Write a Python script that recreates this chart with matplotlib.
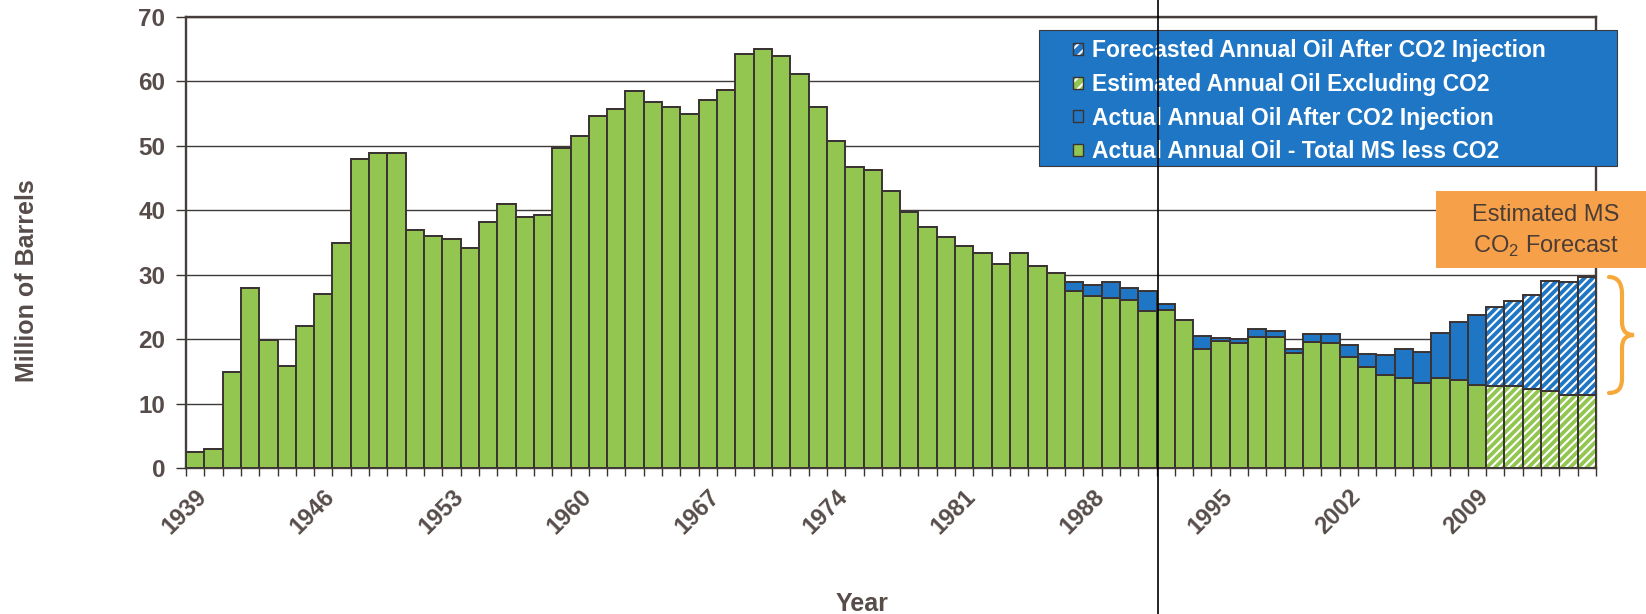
import matplotlib
matplotlib.use("Agg")
import matplotlib.pyplot as plt
import numpy as np
from matplotlib.patches import Rectangle, Patch, PathPatch
from matplotlib.path import Path
from matplotlib.lines import Line2D
from matplotlib.transforms import blended_transform_factory

# ---------------- data ----------------
years = list(range(1939, 2016))

actual_years = list(range(1939, 2010))
actual_base = [2.5, 3.0, 14.9, 28.0, 19.9, 15.9, 22.0, 27.0, 35.0, 47.9,
               48.9, 48.9, 37.0, 36.0, 35.6, 34.2, 38.2, 40.9, 38.9, 39.2,
               49.6, 51.5, 54.6, 55.7, 58.5, 56.8, 56.0, 55.0, 57.1, 58.6,
               64.2, 65.0, 64.0, 61.1, 56.1, 50.8, 46.7, 46.2, 43.0, 39.8,
               37.4, 35.8, 34.5, 33.3, 31.7, 33.3, 31.4, 30.3,
               27.5, 26.7, 26.4, 26.0, 24.3, 24.5, 22.9, 18.4, 19.7, 19.4,
               20.3, 20.3, 17.8, 19.6, 19.4, 17.2, 15.7, 14.4, 14.0, 13.2,
               13.9, 13.7, 12.9]
actual_co2 = [0.0] * 48 + [1.3, 1.7, 2.5, 1.9, 3.2, 1.0, 0.0, 2.1, 0.5, 0.6,
                           1.2, 1.0, 0.7, 1.2, 1.4, 1.9, 2.0, 3.1, 4.4, 4.8,
                           7.1, 8.9, 10.8]

forecast_years = list(range(2010, 2016))
estimated_base = [12.8, 12.8, 12.3, 12.0, 11.4, 11.4]
forecast_co2 = [12.2, 13.1, 14.5, 17.0, 17.5, 18.2]

label_years = list(range(1939, 2010, 7))
yticks = list(range(0, 80, 10))
divider_year = 1991.6

labels = ["Forecasted Annual Oil After CO2 Injection",
          "Estimated Annual Oil Excluding CO2",
          "Actual Annual Oil After CO2 Injection",
          "Actual Annual Oil - Total MS less CO2"]

# ---------------- style ----------------
GREEN = "#93c650"
BLUE = "#1f76c4"
EDGE = "#3b3331"
TXT = "#564c4a"
ORANGE = "#f7a04a"
BRACE = "#f6a93a"

plt.rcParams["font.family"] = ["Liberation Sans", "DejaVu Sans"]
plt.rcParams["mathtext.fontset"] = "custom"
plt.rcParams["mathtext.rm"] = "Liberation Sans"
plt.rcParams["hatch.linewidth"] = 1.5

W, H = 1646, 614
fig = plt.figure(figsize=(W / 100, H / 100), dpi=100)
ax = fig.add_axes([186 / W, 1 - 468 / H, (1596 - 186) / W, (468 - 17) / H])

x0 = years[0]
xa = np.array(actual_years) - x0
xf = np.array(forecast_years) - x0
base = np.array(actual_base)
co2 = np.array(actual_co2)
eb = np.array(estimated_base)
fc = np.array(forecast_co2)

lw = 1.4
ax.bar(xa, base, width=1.0, color=GREEN, edgecolor=EDGE, linewidth=lw, zorder=3)
ax.bar(xa, co2, bottom=base, width=1.0, color=BLUE, edgecolor=EDGE, linewidth=lw, zorder=3)
# hatched forecast bars (white stripes), then outline
ax.bar(xf, eb, width=1.0, color=GREEN, edgecolor="white", hatch="////", linewidth=0, zorder=3)
ax.bar(xf, fc, bottom=eb, width=1.0, color=BLUE, edgecolor="white", hatch="////", linewidth=0, zorder=3)
ax.bar(xf, eb, width=1.0, fill=False, edgecolor=EDGE, linewidth=lw, zorder=4)
ax.bar(xf, fc, bottom=eb, width=1.0, fill=False, edgecolor=EDGE, linewidth=lw, zorder=4)

ax.set_xlim(-0.5, len(years) - 0.5)
ax.set_ylim(0, 70)
ax.set_yticks(yticks)
ax.set_yticklabels([str(v) for v in yticks])
ax.yaxis.grid(True, color="#3f3a38", linewidth=1.0, zorder=0)
ax.set_axisbelow(True)

ax.set_xticks([y - x0 for y in label_years])
ax.set_xticklabels([str(y) for y in label_years], rotation=45, ha="right",
                   va="top", rotation_mode="anchor")
ax.set_xticks(np.arange(-0.5, len(years) + 0.5, 1.0), minor=True)
ax.tick_params(axis="x", which="major", length=0, pad=12)
ax.tick_params(axis="x", which="minor", length=6, width=1.0, color=EDGE, direction="out")
ax.tick_params(axis="y", length=7, width=1.0, color=EDGE, direction="out", pad=8)
for lab in ax.get_xticklabels():
    lab.set_fontsize(17)
    lab.set_fontweight("bold")
    lab.set_color(TXT)
for lab in ax.get_yticklabels():
    lab.set_fontsize(17.5)
    lab.set_fontweight("bold")
    lab.set_color(TXT)
for s in ax.spines.values():
    s.set_color("#463e3c")
    s.set_linewidth(1.7)

# axis titles
fig.text(27 / W, 1 - 281 / H, "Million of Barrels", rotation=90, ha="center", va="center",
         fontsize=18, fontweight="bold", color=TXT)
fig.text(862 / W, 1 - 604 / H, "Year", ha="center", va="center",
         fontsize=18, fontweight="bold", color=TXT)

# legend: blue box + frameless legend
fig.add_artist(Rectangle((1039 / W, 1 - 166 / H), (1617 - 1039) / W, (166 - 30) / H,
                         transform=fig.transFigure, facecolor=BLUE, edgecolor="#3a3a3a",
                         linewidth=0.8, zorder=2))
h_fore = (Patch(facecolor=BLUE, edgecolor="white", hatch="///", linewidth=0),
          Patch(fill=False, edgecolor=EDGE, linewidth=1.0))
h_est = (Patch(facecolor=GREEN, edgecolor="white", hatch="///", linewidth=0),
         Patch(fill=False, edgecolor=EDGE, linewidth=1.0))
h_act_co2 = Patch(facecolor=BLUE, edgecolor=EDGE, linewidth=1.0)
h_act = Patch(facecolor=GREEN, edgecolor=EDGE, linewidth=1.0)
leg = fig.legend([h_fore, h_est, h_act_co2, h_act], labels,
                 loc="upper left", bbox_to_anchor=(1073 / W, 1 - 39 / H),
                 bbox_transform=fig.transFigure, frameon=False,
                 prop={"family": ["Liberation Sans"], "weight": "bold", "size": 16.5},
                 labelcolor="white", handlelength=0.42, handleheight=0.42,
                 handletextpad=0.4, labelspacing=0.47, borderpad=0, borderaxespad=0)
leg.set_zorder(3)

# orange annotation box
fig.add_artist(Rectangle((1436 / W, 1 - 268 / H), (W - 1436) / W, (268 - 191) / H,
                         transform=fig.transFigure, facecolor=ORANGE, edgecolor="none",
                         zorder=2))
fig.text(1546 / W, 1 - 215 / H, "Estimated MS", ha="center", va="center",
         fontsize=17, color="#4b3d36", zorder=3)
fig.text(1546 / W, 1 - 246 / H, r"CO$_2$ Forecast", ha="center", va="center",
         fontsize=17, color="#4b3d36", zorder=3)

# curly brace
pts = [(1609, 277), (1621, 277), (1622, 292), (1622, 292), (1622, 322),
       (1622, 335), (1634, 335), (1622, 335), (1622, 348), (1622, 348),
       (1622, 379), (1622, 393), (1609, 393)]
codes = [Path.MOVETO, Path.CURVE3, Path.CURVE3, Path.LINETO, Path.LINETO,
         Path.CURVE3, Path.CURVE3, Path.CURVE3, Path.CURVE3, Path.LINETO,
         Path.LINETO, Path.CURVE3, Path.CURVE3]
verts = [(px / W, 1 - py / H) for px, py in pts]
fig.add_artist(PathPatch(Path(verts, codes), transform=fig.transFigure, fill=False,
                         edgecolor=BRACE, linewidth=3.0, capstyle="round", zorder=3))

# vertical divider line
tr = blended_transform_factory(ax.transData, fig.transFigure)
fig.add_artist(Line2D([divider_year - x0] * 2, [0, 1], transform=tr, color="black",
                      linewidth=1.2, zorder=10))

fig.savefig("out.png", dpi=100)
